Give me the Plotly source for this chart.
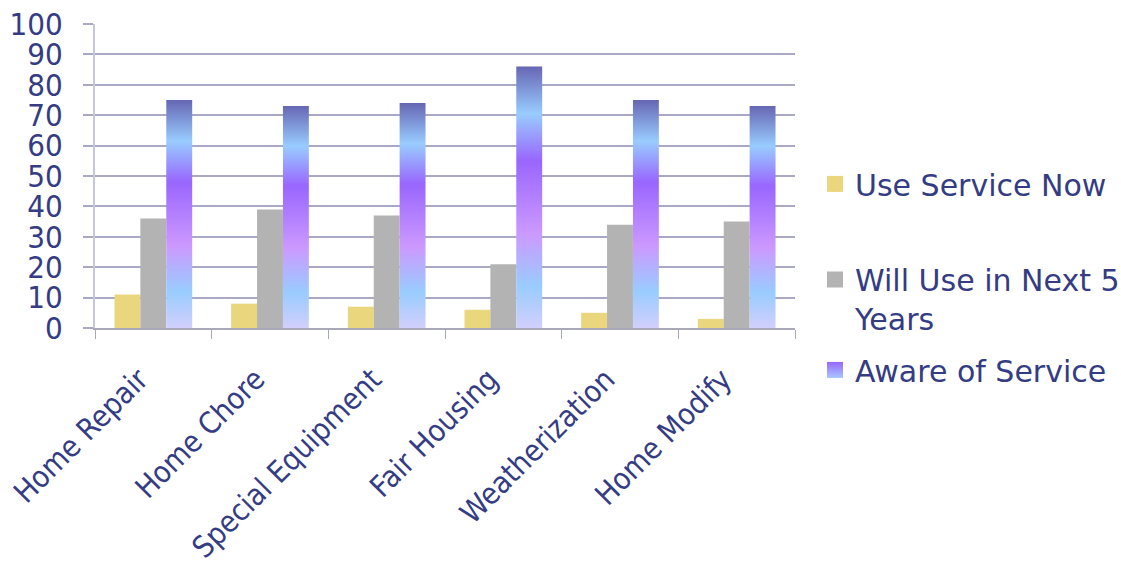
import plotly.graph_objects as go

# Survey results: share of respondents (%) per home service
categories = ["Home Repair", "Home Chore", "Special Equipment",
              "Fair Housing", "Weatherization", "Home Modify"]
use_now = [11, 8, 7, 6, 5, 3]
use_next_5 = [36, 39, 37, 21, 34, 35]
aware = [75, 73, 74, 86, 75, 73]

series_names = ["Use Service Now", "Will Use in Next 5<br>Years", "Aware of Service"]
y_ticks = list(range(0, 101, 10))

TEXT = "#343c84"
GRID = "#a9a9c6"
FONT = "DejaVu Sans"
AXIS_FONT = "DejaVu Sans Condensed, DejaVu Sans"
YELLOW = "#ead67c"
GRAY = "#b3b3b3"
AWARE_SCALE = [
    [0.00, "#d2cffc"],
    [0.16, "#99ccff"],
    [0.36, "#cc99ff"],
    [0.64, "#9966ff"],
    [0.82, "#99ccff"],
    [1.00, "#6666b3"],
]

BAR_W = 0.222
idx = list(range(len(categories)))

fig = go.Figure()

fig.add_trace(go.Bar(x=idx, y=use_now, width=BAR_W, offset=-1.5 * BAR_W,
                     marker=dict(color=YELLOW, line=dict(width=0)),
                     showlegend=False, name="Use Service Now"))
fig.add_trace(go.Bar(x=idx, y=use_next_5, width=BAR_W, offset=-0.5 * BAR_W,
                     marker=dict(color=GRAY, line=dict(width=0)),
                     showlegend=False, name="Will Use in Next 5 Years"))

# gradient-filled bars for the awareness series, one shape per category
for i, v in zip(idx, aware):
    x0, x1 = i + 0.5 * BAR_W, i + 1.5 * BAR_W
    fig.add_trace(go.Scatter(
        x=[x0, x1, x1, x0, x0], y=[0, 0, v, v, 0],
        mode="lines", line=dict(width=0), fill="toself",
        fillgradient=dict(type="vertical", colorscale=AWARE_SCALE, start=0, stop=v),
        showlegend=False, hoverinfo="skip"))

# legend swatches
legend_specs = [
    (series_names[0], dict(color=YELLOW), "legend"),
    (series_names[1], dict(color=GRAY), "legend2"),
    (series_names[2], dict(color="#9966ff",
                           gradient=dict(type="vertical", color="#a6c8ff")), "legend3"),
]
for name, mk, lg in legend_specs:
    fig.add_trace(go.Scatter(x=[None], y=[None], mode="markers", name=name,
                             marker=dict(symbol="square", size=18, line=dict(width=0), **mk),
                             legend=lg))

legend_font = dict(family=FONT, size=30, color=TEXT)
def legend_at(y):
    return dict(x=1.0286, y=y, xanchor="left", yanchor="middle", valign="top",
                font=legend_font, bgcolor="rgba(0,0,0,0)", itemclick=False)

fig.update_layout(
    width=1121, height=576,
    margin=dict(l=95, r=326, t=24, b=248, autoexpand=False),
    paper_bgcolor="white", plot_bgcolor="white",
    barmode="overlay",
    font=dict(family=FONT, color=TEXT),
    legend=legend_at(0.474),
    legend2=legend_at(0.095),
    legend3=legend_at(-0.138),
    xaxis=dict(
        range=[-0.5, len(categories) - 0.5],
        tickmode="array", tickvals=idx, ticktext=categories,
        tickangle=-45, ticks="", tickfont=dict(family=AXIS_FONT, size=30, color=TEXT),
        ticklabelstandoff=20, ticklabelshift=-14,
        showgrid=False, zeroline=False,
        showline=True, linecolor="#a8a8b8", linewidth=1.5,
        minor=dict(tickmode="linear", tick0=-0.5, dtick=1, ticks="outside",
                   ticklen=9, tickcolor="#a8a8b8", tickwidth=1, showgrid=False),
    ),
    yaxis=dict(
        range=[0, 100], tickmode="array", tickvals=y_ticks,
        tickfont=dict(family=AXIS_FONT, size=31, color=TEXT),
        ticks="outside", ticklen=10, tickcolor=GRID, tickwidth=1.5,
        ticklabelstandoff=14,
        showgrid=True, gridcolor=GRID, gridwidth=1.5,
        zeroline=False,
        showline=True, linecolor="#c6c6dc", linewidth=2,
    ),
)

fig.write_html("out.html")
